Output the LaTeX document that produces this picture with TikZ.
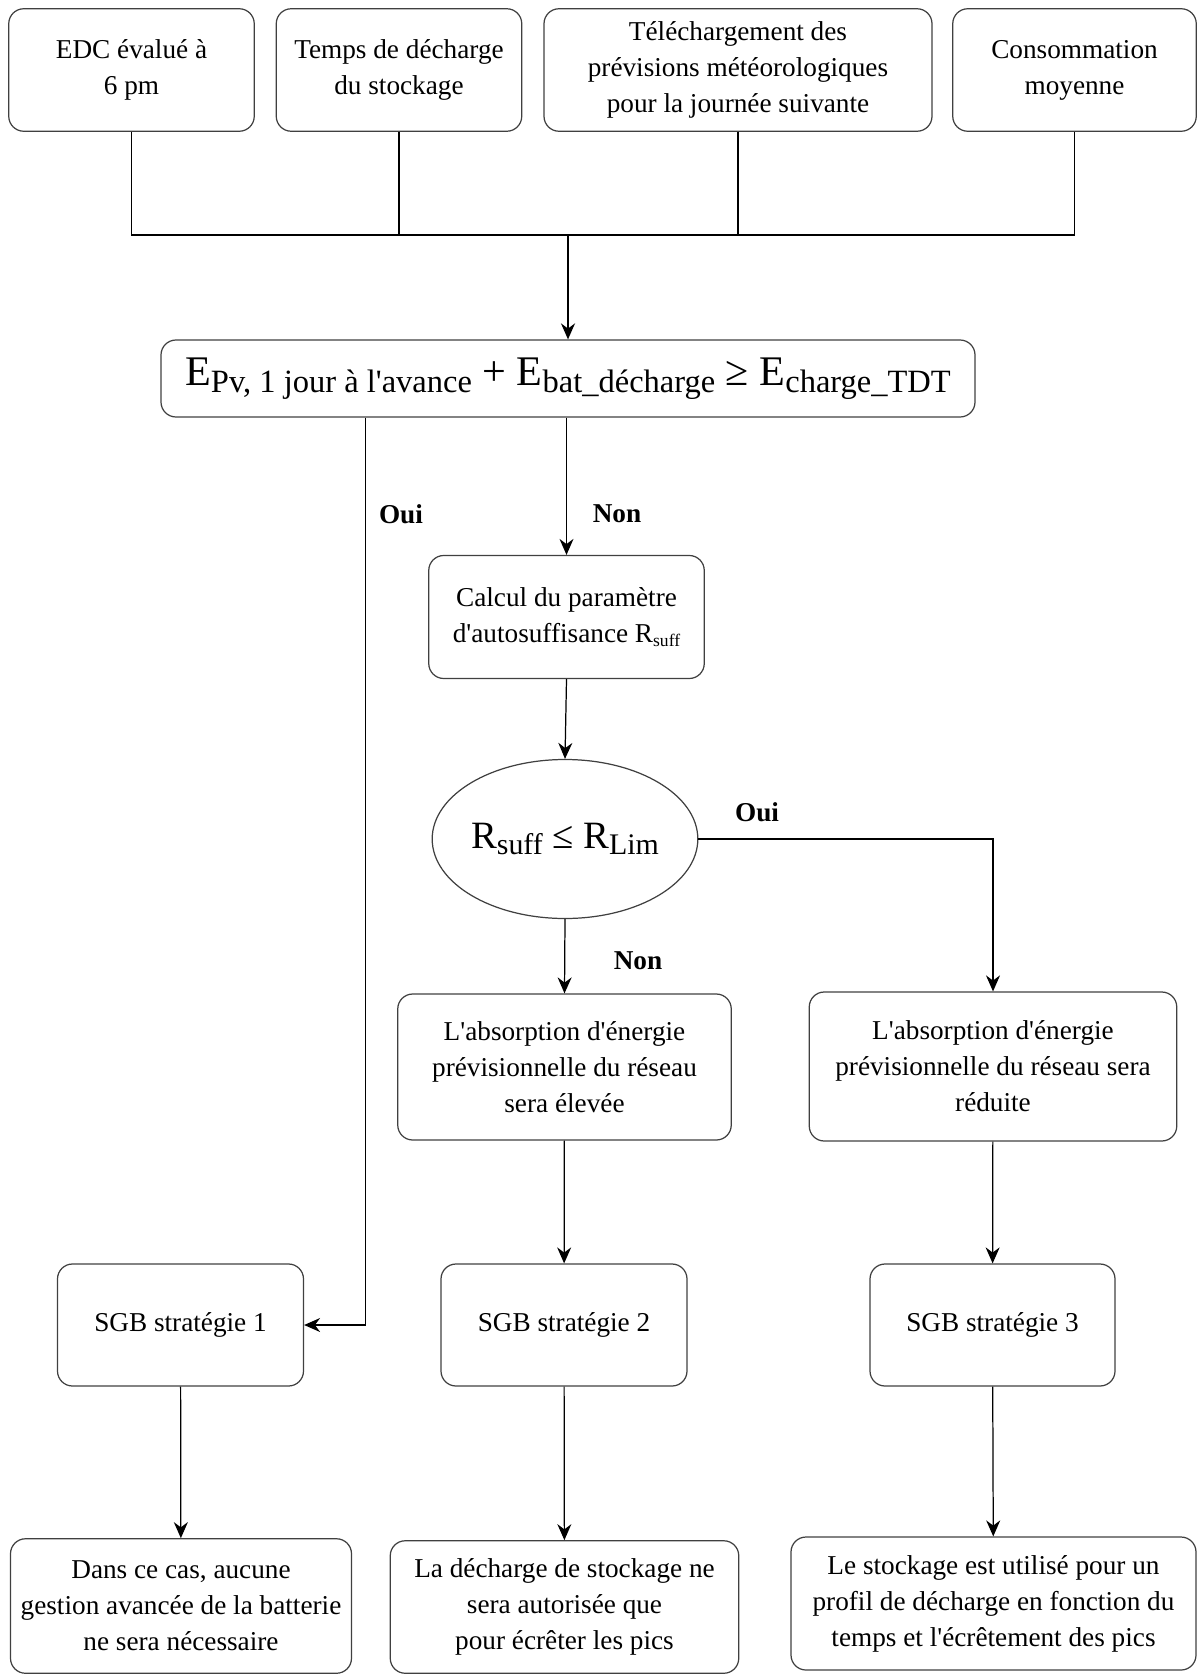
\documentclass[tikz,border=0pt]{standalone}
\usepackage{fontspec}
\setmainfont{Liberation Serif}
\usepackage{tikz}
\usetikzlibrary{shapes.geometric, arrows.meta}

\newcommand{\corps}{\fontsize{15.5}{20.5}\selectfont}
\newcommand{\lowidx}[2][18.5]{\raisebox{-0.35ex}{\fontsize{#1}{#1}\selectfont #2}}
\newcommand{\apos}{\textquotesingle}

\begin{document}
\begin{tikzpicture}[
    boite/.style={rectangle, draw=black!75, line width=0.7pt, rounded corners=0.3cm, align=center, inner sep=2pt, font=\corps},
    ovale/.style={ellipse, draw=black!75, line width=0.7pt, align=center, inner sep=0pt},
    rep/.style={font=\corps\bfseries},
    arrow/.style={-{Stealth[length=3.2mm, width=2.8mm]}, line width=0.7pt},
    trait/.style={line width=0.7pt}
  ]
    \useasboundingbox (0,0) rectangle (23.96,-33.52);

    % donnees d'entree
    \node[boite, minimum width=4.91cm, minimum height=2.45cm] (edc) at (2.63,-1.40) {EDC évalué à\\6 pm};
    \node[boite, minimum width=4.91cm, minimum height=2.45cm] (temps) at (7.98,-1.40) {Temps de décharge\\du stockage};
    \node[boite, minimum width=7.76cm, minimum height=2.45cm] (meteo) at (14.76,-1.40) {Téléchargement des\\prévisions météorologiques\\pour la journée suivante};
    \node[boite, minimum width=4.87cm, minimum height=2.45cm] (conso) at (21.49,-1.40) {Consommation\\moyenne};
    \coordinate (jonction) at (11.36,-4.70);

    % bilan energetique
    \node[boite, minimum width=16.28cm, minimum height=1.54cm, font=\fontsize{24}{26}\selectfont] (bilan) at (11.36,-7.57)
      {E\lowidx{Pv, 1 jour à l\apos avance} + E\lowidx{bat\_décharge} ≥ E\lowidx{charge\_TDT}};
    \coordinate (ouibas) at (7.31,-26.50);

    \node[boite, minimum width=5.51cm, minimum height=2.46cm] (rsuff) at (11.33,-12.34) {Calcul du paramètre\\d\apos autosuffisance R\lowidx[10]{suff}};
    \node[ovale, minimum width=4.88cm, minimum height=3.18cm, font=\fontsize{22}{24}\selectfont] (test) at (11.30,-16.78) {R\lowidx[17]{suff} ≤ R\lowidx[17]{Lim}};

    \node[boite, minimum width=6.67cm, minimum height=2.92cm] (eleve) at (11.29,-21.34) {L\apos absorption d\apos énergie\\prévisionnelle du réseau\\sera élevée};
    \node[boite, minimum width=7.35cm, minimum height=2.98cm] (reduit) at (19.86,-21.33) {L\apos absorption d\apos énergie\\prévisionnelle du réseau sera\\réduite};

    % strategies
    \node[boite, minimum width=4.92cm, minimum height=2.44cm] (sgb1) at (3.61,-26.50) {SGB stratégie 1};
    \node[boite, minimum width=4.92cm, minimum height=2.44cm] (sgb2) at (11.28,-26.50) {SGB stratégie 2};
    \node[boite, minimum width=4.90cm, minimum height=2.44cm] (sgb3) at (19.85,-26.50) {SGB stratégie 3};

    \node[boite, minimum width=6.82cm, minimum height=2.69cm] (cas1) at (3.62,-32.12) {Dans ce cas, aucune\\gestion avancée de la batterie\\ne sera nécessaire};
    \node[boite, minimum width=6.97cm, minimum height=2.65cm] (cas2) at (11.29,-32.14) {La décharge de stockage ne\\sera autorisée que\\pour écrêter les pics};
    \node[boite, minimum width=8.10cm, minimum height=2.66cm] (cas3) at (19.87,-32.07) {Le stockage est utilisé pour un\\profil de décharge en fonction du\\temps et l\apos écrêtement des pics};

    \node[rep] (oui1) at (8.02,-10.28) {Oui};
    \node[rep] (non1) at (12.34,-10.28) {Non};
    \node[rep] (oui2) at (15.14,-16.24) {Oui};
    \node[rep] (non2) at (12.76,-19.22) {Non};

    \draw[trait] (edc.south) |- (jonction);
    \draw[trait] (temps.south) |- (jonction);
    \draw[trait] (meteo.south) |- (jonction);
    \draw[trait] (conso.south) |- (jonction);
    \draw[arrow, line width=1.1pt] (jonction) -- (bilan.north);
    \draw[arrow] (bilan.south -| ouibas) |- (sgb1.east);
    \draw[arrow] (bilan.south -| rsuff.north) -- (rsuff.north);
    \draw[arrow] (rsuff.south) -- (test.north);
    \draw[arrow] (test.east) -| (reduit.north);
    \draw[arrow] (test.south) -- (eleve.north);
    \draw[arrow] (eleve) -- (sgb2);
    \draw[arrow] (reduit) -- (sgb3);
    \draw[arrow] (sgb1) -- (cas1);
    \draw[arrow] (sgb2) -- (cas2);
    \draw[arrow] (sgb3) -- (cas3);
  \end{tikzpicture}
\end{document}
